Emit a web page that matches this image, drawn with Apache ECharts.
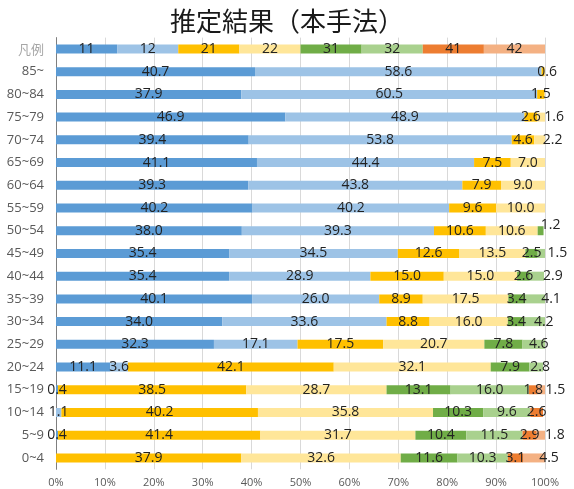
<!DOCTYPE html>
<html>
<head>
<meta charset="utf-8">
<script src="https://cdn.jsdelivr.net/npm/echarts@6/dist/echarts.min.js"></script>
<style>
  html, body { margin: 0; padding: 0; background: #fff; }
  #chart { width: 574px; height: 489px; }
</style>
</head>
<body>
<div id="chart"></div>
<script>
// Age groups, top to bottom
const ageGroups = ['85~', '80~84', '75~79', '70~74', '65~69', '60~64', '55~59', '50~54', '45~49',
  '40~44', '35~39', '30~34', '25~29', '20~24', '15~19', '10~14', '5~9', '0~4'];
const legendRowLabel = '凡例';

// Category codes and their shares (%) per age group
const codes = ['11', '12', '21', '22', '31', '32', '41', '42'];
const s11 = [40.7, 37.9, 46.9, 39.4, 41.1, 39.3, 40.2, 38.0, 35.4, 35.4, 40.1, 34.0, 32.3, 11.1, 0.4, 0, 0.4, 0];
const s12 = [58.6, 60.5, 48.9, 53.8, 44.4, 43.8, 40.2, 39.3, 34.5, 28.9, 26.0, 33.6, 17.1, 3.6, 0, 1.1, 0, 0];
const s21 = [0.6, 1.5, 2.6, 4.6, 7.5, 7.9, 9.6, 10.6, 12.6, 15.0, 8.9, 8.8, 17.5, 42.1, 38.5, 40.2, 41.4, 37.9];
const s22 = [0, 0, 1.6, 2.2, 7.0, 9.0, 10.0, 10.6, 13.5, 15.0, 17.5, 16.0, 20.7, 32.1, 28.7, 35.8, 31.7, 32.6];
const s31 = [0, 0, 0, 0, 0, 0, 0, 1.2, 2.5, 2.6, 3.4, 3.4, 7.8, 7.9, 13.1, 10.3, 10.4, 11.6];
const s32 = [0, 0, 0, 0, 0, 0, 0, 0, 1.5, 2.9, 4.1, 4.2, 4.6, 2.8, 16.0, 9.6, 11.5, 10.3];
const s41 = [0, 0, 0, 0, 0, 0, 0, 0, 0, 0, 0, 0, 0, 0, 1.8, 2.6, 2.9, 3.1];
const s42 = [0, 0, 0, 0, 0, 0, 0, 0, 0, 0, 0, 0, 0, 0, 1.5, 0, 1.8, 4.5];
const seriesValues = [s11, s12, s21, s22, s31, s32, s41, s42];

// Key row: each code gets an equal share of the bar
const legendShare = 100 / codes.length;

// X axis ticks
const xTicks = { min: 0, max: 100, interval: 10 };

const colors = ['#5b9bd5', '#9dc3e6', '#ffc000', '#ffe699', '#70ad47', '#a9d18e', '#ed7d31', '#f4b183'];

// Label nudges (px) for small trailing segments: "age|code" -> [dx, dy]
const labelNudge = {
  '85~|21': [4, 0],
  '75~79|22': [13, 0],
  '70~74|22': [13, 0],
  '50~54|31': [10, -6],
  '45~49|32': [16, 0],
  '40~44|32': [16, 0],
  '35~39|32': [16, 0],
  '30~34|32': [9, 0],
  '25~29|32': [5, 0],
  '20~24|32': [4, 0],
  '15~19|42': [14, 0],
  '5~9|42': [14, 0],
  '0~4|42': [15, 0]
};

const categories = [legendRowLabel].concat(ageGroups);
const labelFont = { fontFamily: 'Open Sans', fontSize: 14, color: '#222' };

const series = codes.map((code, si) => {
  const data = [{
    value: legendShare,
    label: { show: true, formatter: code }
  }];
  seriesValues[si].forEach((v, i) => {
    const item = { value: v };
    const nudge = labelNudge[ageGroups[i] + '|' + code];
    if (v === 0) {
      item.label = { show: false };
    } else if (nudge) {
      item.label = { offset: nudge };
    }
    data.push(item);
  });
  return {
    name: code,
    type: 'bar',
    stack: 'total',
    barWidth: 9,
    itemStyle: { color: colors[si] },
    label: Object.assign({
      show: true,
      position: 'inside',
      formatter: p => p.value.toFixed(1)
    }, labelFont),
    emphasis: { disabled: true },
    data: data
  };
});

const chart = echarts.init(document.getElementById('chart'), null, { renderer: 'canvas' });
chart.setOption({
  animation: false,
  backgroundColor: '#fff',
  title: {
    text: '推定結果（本手法）',
    left: 'center',
    top: 3,
    textStyle: {
      fontFamily: 'Noto Sans CJK JP',
      fontSize: 26,
      fontWeight: 'normal',
      color: '#1a1a1a'
    }
  },
  grid: { left: 56, right: 29, top: 37.6, bottom: 19.7, containLabel: false },
  xAxis: {
    type: 'value',
    min: xTicks.min,
    max: xTicks.max,
    interval: xTicks.interval,
    axisLine: { show: false },
    axisTick: { show: false },
    splitLine: { show: true, lineStyle: { color: '#d9d9d9', width: 1 } },
    axisLabel: {
      formatter: '{value}%',
      color: '#595959',
      fontFamily: 'Open Sans',
      fontSize: 11,
      margin: 8
    }
  },
  yAxis: {
    type: 'category',
    inverse: true,
    data: categories.map((c, i) => i === 0
      ? { value: c, textStyle: { color: '#a6a6a6', fontFamily: 'Noto Sans CJK JP', fontSize: 13 } }
      : c),
    axisLine: { show: true, lineStyle: { color: '#7f7f7f', width: 1 } },
    axisTick: { show: false },
    splitLine: { show: false },
    axisLabel: {
      color: '#595959',
      fontFamily: 'Open Sans',
      fontSize: 13,
      margin: 12
    }
  },
  series: series
});
</script>
</body>
</html>
